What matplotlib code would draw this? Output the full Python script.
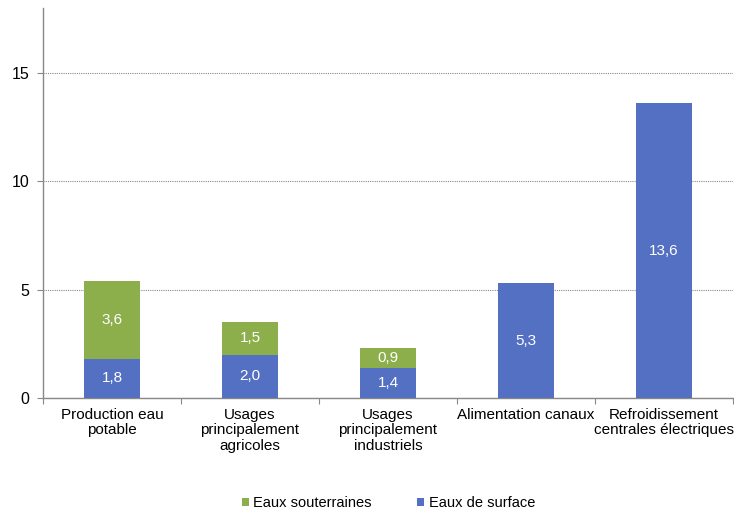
import numpy as np
import matplotlib.pyplot as plt
from matplotlib.ticker import FixedLocator, NullFormatter

plt.rcParams['font.family'] = ['Liberation Sans', 'DejaVu Sans']

# data
categories = ['Production eau\npotable', 'Usages\nprincipalement\nagricoles',
              'Usages\nprincipalement\nindustriels', 'Alimentation canaux',
              'Refroidissement\ncentrales électriques']
surface = [1.8, 2.0, 1.4, 5.3, 13.6]      # Eaux de surface
souterraines = [3.6, 1.5, 0.9, 0, 0]      # Eaux souterraines

blue = '#5470C2'
green = '#8CAF4B'

fig = plt.figure(figsize=(7.34, 5.12), dpi=100)
ax = fig.add_axes([0.0586, 0.2227, 0.94, 0.7613])

x = np.arange(len(categories))
w = 0.4
b1 = ax.bar(x, surface, w, color=blue, label='Eaux de surface', zorder=3)
b2 = ax.bar(x, souterraines, w, bottom=surface, color=green,
            label='Eaux souterraines', zorder=3)

# white value labels in the middle of each segment
for i in range(len(x)):
    ax.text(x[i], surface[i] / 2, f'{surface[i]:.1f}'.replace('.', ','),
            ha='center', va='center', color='white', fontsize=11, zorder=4)
    if souterraines[i] > 0:
        ax.text(x[i], surface[i] + souterraines[i] / 2,
                f'{souterraines[i]:.1f}'.replace('.', ','),
                ha='center', va='center', color='white', fontsize=11, zorder=4)

ax.set_xlim(-0.5, len(categories) - 0.5)
ax.set_ylim(0, 18)
ax.set_yticks([0, 5, 10, 15])
ax.yaxis.grid(True, linestyle=(0, (1, 1)), color='#8a8a8a', linewidth=0.8, zorder=0)

# tick marks between categories, labels at centers
ax.xaxis.set_major_locator(FixedLocator(np.arange(-0.5, len(categories), 1)))
ax.xaxis.set_major_formatter(NullFormatter())
ax.xaxis.set_minor_locator(FixedLocator(x))
ax.set_xticklabels(categories, minor=True, fontsize=11, linespacing=1.15)
ax.tick_params(axis='x', which='minor', length=0, pad=7)
ax.tick_params(axis='x', which='major', length=4, color='#888888')
ax.tick_params(axis='y', length=4, color='#888888', labelsize=11.5, pad=6)

for s in ['top', 'right']:
    ax.spines[s].set_visible(False)
for s in ['left', 'bottom']:
    ax.spines[s].set_color('#888888')
    ax.spines[s].set_linewidth(1)

handles = [b2, b1]
fig.legend(handles, ['Eaux souterraines', 'Eaux de surface'], loc='center',
           bbox_to_anchor=(0.529, 0.0176), ncol=2, frameon=False, fontsize=10.5,
           handlelength=0.5, handleheight=0.5, handletextpad=0.3,
           columnspacing=3.1, borderpad=0)

fig.savefig('out.png', dpi=100)
